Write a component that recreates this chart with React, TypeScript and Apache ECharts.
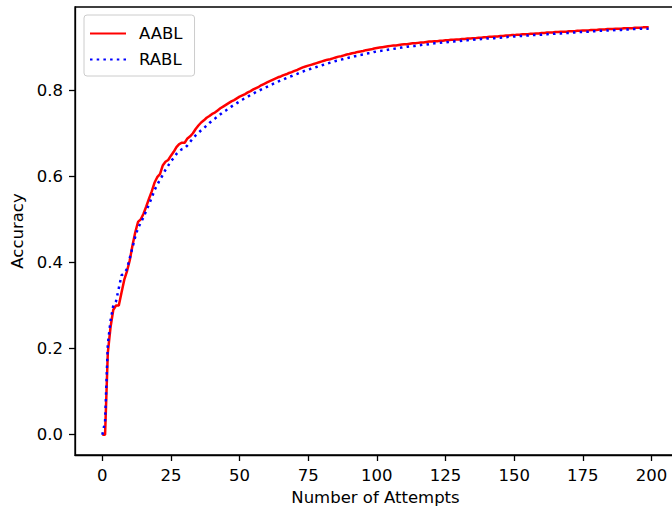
import React, { useEffect, useRef } from "react";
import * as echarts from "echarts";

// Accuracy after each number of attempts
const aablAccuracy: number[] = [
  0.000, 0.000, 0.190, 0.250, 0.290, 0.300, 0.300, 0.330, 0.360, 0.380,
  0.405, 0.440, 0.470, 0.494, 0.500, 0.513, 0.530, 0.548, 0.565, 0.585,
  0.598, 0.605, 0.625, 0.634, 0.638, 0.648, 0.657, 0.668, 0.675, 0.678,
  0.678, 0.688, 0.693, 0.700, 0.710, 0.718, 0.725, 0.730, 0.736, 0.740,
  0.745, 0.748, 0.753, 0.758, 0.762, 0.766, 0.770, 0.774, 0.777, 0.781,
  0.785, 0.788, 0.791, 0.795, 0.798, 0.802, 0.805, 0.808, 0.812, 0.815,
  0.818, 0.821, 0.824, 0.827, 0.830, 0.832, 0.835, 0.837, 0.840, 0.842,
  0.845, 0.847, 0.850, 0.853, 0.855, 0.857, 0.859, 0.861, 0.863, 0.865,
  0.867, 0.869, 0.871, 0.872, 0.874, 0.876, 0.878, 0.879, 0.881, 0.883,
  0.884, 0.886, 0.887, 0.889, 0.890, 0.891, 0.893, 0.894, 0.895, 0.897,
  0.898, 0.899, 0.900, 0.901, 0.902, 0.903, 0.904, 0.904, 0.905, 0.906,
  0.907, 0.907, 0.908, 0.909, 0.909, 0.910, 0.911, 0.911, 0.912, 0.913,
  0.913, 0.914, 0.914, 0.915, 0.915, 0.916, 0.916, 0.917, 0.917, 0.918,
  0.918, 0.919, 0.919, 0.920, 0.920, 0.921, 0.921, 0.922, 0.922, 0.923,
  0.923, 0.924, 0.924, 0.925, 0.925, 0.926, 0.926, 0.927, 0.927, 0.928,
  0.928, 0.929, 0.929, 0.930, 0.930, 0.930, 0.931, 0.931, 0.932, 0.932,
  0.933, 0.933, 0.934, 0.934, 0.934, 0.935, 0.935, 0.936, 0.936, 0.936,
  0.937, 0.937, 0.937, 0.938, 0.938, 0.939, 0.939, 0.939, 0.940, 0.940,
  0.940, 0.941, 0.941, 0.941, 0.942, 0.942, 0.942, 0.943, 0.943, 0.943,
  0.944, 0.944, 0.944, 0.944, 0.945, 0.945, 0.945, 0.946, 0.946, 0.946,
];

const rablAccuracy: number[] = [
  0.000, 0.030, 0.210, 0.265, 0.300, 0.310, 0.340, 0.370, 0.375, 0.385,
  0.410, 0.435, 0.460, 0.480, 0.492, 0.505, 0.520, 0.535, 0.550, 0.568,
  0.580, 0.592, 0.603, 0.615, 0.625, 0.635, 0.643, 0.652, 0.659, 0.663,
  0.665, 0.672, 0.680, 0.688, 0.695, 0.701, 0.707, 0.712, 0.718, 0.724,
  0.729, 0.734, 0.739, 0.744, 0.749, 0.753, 0.758, 0.762, 0.766, 0.770,
  0.774, 0.778, 0.782, 0.785, 0.789, 0.792, 0.796, 0.799, 0.802, 0.805,
  0.808, 0.811, 0.814, 0.817, 0.820, 0.823, 0.825, 0.828, 0.831, 0.833,
  0.836, 0.838, 0.841, 0.843, 0.846, 0.848, 0.850, 0.852, 0.854, 0.856,
  0.858, 0.860, 0.862, 0.864, 0.866, 0.868, 0.869, 0.871, 0.873, 0.874,
  0.876, 0.877, 0.879, 0.880, 0.882, 0.883, 0.885, 0.886, 0.887, 0.889,
  0.890, 0.891, 0.892, 0.893, 0.894, 0.895, 0.896, 0.897, 0.898, 0.899,
  0.900, 0.901, 0.902, 0.903, 0.903, 0.904, 0.905, 0.906, 0.906, 0.907,
  0.908, 0.909, 0.909, 0.910, 0.911, 0.911, 0.912, 0.913, 0.913, 0.914,
  0.914, 0.915, 0.916, 0.916, 0.917, 0.917, 0.918, 0.918, 0.919, 0.919,
  0.920, 0.920, 0.921, 0.921, 0.922, 0.922, 0.923, 0.923, 0.924, 0.924,
  0.925, 0.925, 0.926, 0.926, 0.927, 0.927, 0.928, 0.928, 0.928, 0.929,
  0.929, 0.930, 0.930, 0.931, 0.931, 0.931, 0.932, 0.932, 0.933, 0.933,
  0.933, 0.934, 0.934, 0.935, 0.935, 0.935, 0.936, 0.936, 0.937, 0.937,
  0.937, 0.938, 0.938, 0.938, 0.939, 0.939, 0.939, 0.940, 0.940, 0.940,
  0.941, 0.941, 0.941, 0.942, 0.942, 0.942, 0.943, 0.943, 0.943, 0.943,
];

const attempts: number[] = aablAccuracy.map((_, i) => i);

const xTicks: number[] = [0, 25, 50, 75, 100, 125, 150, 175, 200];
const yTicks: number[] = [0.0, 0.2, 0.4, 0.6, 0.8];

const seriesNames = ["AABL", "RABL"];

const FONT = "DejaVu Sans";
const FS = 16.5;

export default function App() {
  const ref = useRef<HTMLDivElement>(null);

  useEffect(() => {
    if (!ref.current) return;
    const chart = echarts.init(ref.current, undefined, { renderer: "svg" });

    const allVals = aablAccuracy.concat(rablAccuracy);
    const yMaxData = Math.max(...allVals);
    const yMinData = Math.min(...allVals);
    const yPad = (yMaxData - yMinData) * 0.05;
    const xMaxData = attempts[attempts.length - 1];
    const xPad = xMaxData * 0.05;

    const axisLineStyle = { color: "#000", width: 1.3 };

    chart.setOption({
      animation: false,
      backgroundColor: "#fff",
      textStyle: { fontFamily: FONT },
      grid: {
        left: 75,
        top: 7,
        right: 4,
        bottom: 59,
        show: true,
        borderColor: "#000",
        borderWidth: 1.3,
        backgroundColor: "transparent",
      },
      legend: {
        orient: "vertical",
        left: 84,
        top: 15,
        data: seriesNames,
        itemWidth: 36,
        itemHeight: 14,
        itemGap: 9,
        padding: [10, 12, 8, 5],
        backgroundColor: "rgba(255,255,255,0.8)",
        borderColor: "#cccccc",
        borderWidth: 1,
        borderRadius: 3,
        itemStyle: { opacity: 0 },
        textStyle: {
          fontFamily: FONT,
          fontSize: FS,
          color: "#000",
          padding: [0, 0, 0, 8],
        },
      },
      xAxis: {
        type: "value",
        min: -xPad,
        max: xMaxData + xPad,
        name: "Number of Attempts",
        nameLocation: "middle",
        nameGap: 34,
        nameTextStyle: { fontFamily: FONT, fontSize: FS, color: "#000" },
        axisLine: { show: true, onZero: false, lineStyle: axisLineStyle },
        axisTick: {
          show: true,
          length: 6,
          inside: false,
          customValues: xTicks,
          lineStyle: axisLineStyle,
        },
        axisLabel: {
          customValues: xTicks,
          margin: 12,
          fontFamily: FONT,
          fontSize: FS,
          color: "#000",
          formatter: (v: number) => String(v),
        },
        splitLine: { show: false },
      },
      yAxis: {
        type: "value",
        min: yMinData - yPad,
        max: yMaxData + yPad,
        name: "Accuracy",
        nameLocation: "middle",
        nameGap: 48,
        nameRotate: 90,
        nameTextStyle: { fontFamily: FONT, fontSize: FS, color: "#000" },
        axisLine: { show: true, onZero: false, lineStyle: axisLineStyle },
        axisTick: {
          show: true,
          length: 6,
          inside: false,
          customValues: yTicks,
          lineStyle: axisLineStyle,
        },
        axisLabel: {
          customValues: yTicks,
          margin: 12,
          fontFamily: FONT,
          fontSize: FS,
          color: "#000",
          formatter: (v: number) => v.toFixed(1),
        },
        splitLine: { show: false },
      },
      series: [
        {
          name: seriesNames[0],
          type: "line",
          data: attempts.map((x, i) => [x, aablAccuracy[i]]),
          symbol: "none",
          lineStyle: { color: "#ff0000", width: 2.5 },
          itemStyle: { color: "#ff0000" },
        },
        {
          name: seriesNames[1],
          type: "line",
          data: attempts.map((x, i) => [x, rablAccuracy[i]]),
          symbol: "none",
          lineStyle: { color: "#0000ff", width: 2.5, type: [2.5, 4.2] },
          itemStyle: { color: "#0000ff" },
        },
      ],
    });

    return () => chart.dispose();
  }, []);

  return (
    <div
      style={{
        position: "fixed",
        left: 0,
        top: 0,
        width: 672,
        height: 514,
        overflow: "hidden",
        background: "#fff",
      }}
    >
      <div ref={ref} style={{ width: 680, height: 514 }} />
    </div>
  );
}
